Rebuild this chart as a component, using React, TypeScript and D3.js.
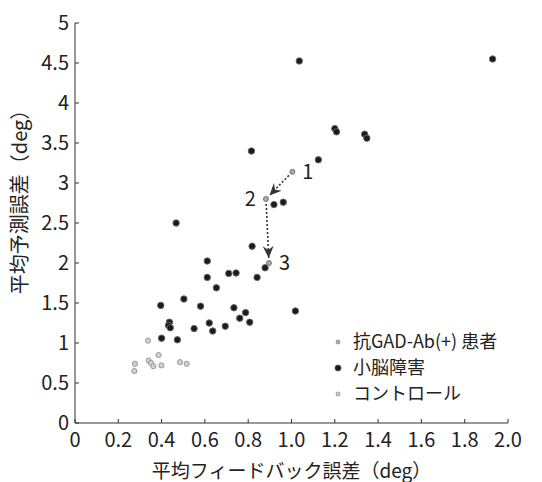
import React, { useEffect, useRef } from 'react';
import * as d3 from 'd3';

// 抗GAD-Ab(+) 患者 (the three visits 1 -> 2 -> 3)
const patientX = [1.004, 0.882, 0.896];
const patientY = [3.14, 2.8, 2.0];
const patientLabels = ['1', '2', '3'];

// 小脳障害
const cerebX = [1.036, 1.929, 0.815, 0.919, 0.962, 1.2, 1.208, 1.338, 1.348, 1.124, 0.467, 0.818, 0.878,
  0.611, 0.611, 0.71, 0.744, 0.841, 0.653, 0.503, 0.396, 0.58, 0.734, 0.788, 1.018, 0.761, 0.807,
  0.436, 0.432, 0.44, 0.62, 0.694, 0.55, 0.636, 0.4, 0.473];
const cerebY = [4.525, 4.55, 3.4, 2.73, 2.76, 3.68, 3.64, 3.61, 3.56, 3.29, 2.5, 2.21, 1.94,
  2.025, 1.82, 1.87, 1.875, 1.82, 1.69, 1.55, 1.47, 1.46, 1.44, 1.38, 1.4, 1.31, 1.26,
  1.26, 1.22, 1.19, 1.25, 1.21, 1.18, 1.15, 1.06, 1.04];

// コントロール
const controlX = [0.337, 0.386, 0.34, 0.351, 0.362, 0.399, 0.277, 0.274, 0.485, 0.516];
const controlY = [1.03, 0.85, 0.78, 0.75, 0.71, 0.72, 0.74, 0.65, 0.76, 0.74];

const xTicks = [0, 0.2, 0.4, 0.6, 0.8, 1.0, 1.2, 1.4, 1.6, 1.8, 2.0];
const yTicks = [0, 0.5, 1, 1.5, 2, 2.5, 3, 3.5, 4, 4.5, 5];
const legendLabels = ['抗GAD-Ab(+) 患者', '小脳障害', 'コントロール'];

const FONT = '"Noto Sans CJK JP", "Noto Sans", sans-serif';

const App: React.FC = () => {
  const ref = useRef<SVGSVGElement>(null);

  useEffect(() => {
    if (!ref.current) return;
    const svg = d3.select(ref.current);
    svg.selectAll('*').remove();

    const x = d3.scaleLinear().domain([0, 2]).range([75, 508]);
    const y = d3.scaleLinear().domain([0, 5]).range([423, 23]);

    // arrow head
    svg.append('defs').append('marker')
      .attr('id', 'dart')
      .attr('viewBox', '-12 -6 13 12')
      .attr('refX', 0).attr('refY', 0)
      .attr('markerWidth', 13).attr('markerHeight', 12)
      .attr('markerUnits', 'userSpaceOnUse')
      .attr('orient', 'auto')
      .append('path')
      .attr('d', 'M0,0 L-12,-5.5 L-8,0 L-12,5.5 Z')
      .attr('fill', '#333');

    // axes
    const axes = svg.append('g').attr('stroke', '#333').attr('stroke-width', 1);
    axes.append('line').attr('x1', x(0)).attr('x2', x(0)).attr('y1', y(0)).attr('y2', y(5));
    axes.append('line').attr('x1', x(0)).attr('x2', x(2)).attr('y1', y(0)).attr('y2', y(0));
    axes.selectAll('.yt').data(yTicks).join('line')
      .attr('x1', x(0)).attr('x2', x(0) + 4).attr('y1', d => y(d)).attr('y2', d => y(d));
    axes.selectAll('.xt').data(xTicks).join('line')
      .attr('x1', d => x(d)).attr('x2', d => x(d)).attr('y1', y(0)).attr('y2', y(0) - 4);

    svg.append('g').selectAll('text').data(yTicks).join('text')
      .attr('x', x(0) - 6).attr('y', d => y(d)).attr('dy', '0.35em')
      .attr('text-anchor', 'end').attr('font-family', FONT).attr('font-size', 20)
      .attr('fill', '#222')
      .text(d => String(d));

    svg.append('g').selectAll('text').data(xTicks).join('text')
      .attr('x', d => x(d)).attr('y', 447)
      .attr('text-anchor', 'middle').attr('font-family', FONT).attr('font-size', 20)
      .attr('fill', '#222')
      .text(d => (d === 0 ? '0' : d.toFixed(1)));

    svg.append('text')
      .attr('x', (x(0) + x(2)) / 2).attr('y', 478)
      .attr('text-anchor', 'middle').attr('font-family', FONT).attr('font-size', 19)
      .attr('fill', '#222')
      .text('平均フィードバック誤差（deg）');

    svg.append('text')
      .attr('transform', 'translate(27,197) rotate(-90)')
      .attr('text-anchor', 'middle').attr('font-family', FONT).attr('font-size', 20)
      .attr('fill', '#222')
      .text('平均予測誤差（deg）');

    // cerebellar patients
    svg.append('g').selectAll('circle').data(cerebX).join('circle')
      .attr('cx', d => x(d)).attr('cy', (d, i) => y(cerebY[i])).attr('r', 3.2)
      .attr('fill', '#1a1a1a').attr('stroke', '#666').attr('stroke-width', 1);

    // controls
    svg.append('g').selectAll('circle').data(controlX).join('circle')
      .attr('cx', d => x(d)).attr('cy', (d, i) => y(controlY[i])).attr('r', 2.6)
      .attr('fill', '#d0d0d0').attr('stroke', '#999').attr('stroke-width', 1);

    // patient trajectory (dotted arrows between visits)
    for (let i = 0; i < patientX.length - 1; i++) {
      const x1 = x(patientX[i]), y1 = y(patientY[i]);
      const x2 = x(patientX[i + 1]), y2 = y(patientY[i + 1]);
      const len = Math.hypot(x2 - x1, y2 - y1);
      const sh = 5 / len;
      svg.append('line')
        .attr('x1', x1 + (x2 - x1) * sh).attr('y1', y1 + (y2 - y1) * sh)
        .attr('x2', x2 - (x2 - x1) * sh).attr('y2', y2 - (y2 - y1) * sh)
        .attr('stroke', '#333').attr('stroke-width', 1.6)
        .attr('stroke-dasharray', '2,2')
        .attr('marker-end', 'url(#dart)');
    }
    svg.append('g').selectAll('circle').data(patientX).join('circle')
      .attr('cx', d => x(d)).attr('cy', (d, i) => y(patientY[i])).attr('r', 2.5)
      .attr('fill', '#aaa').attr('stroke', '#777').attr('stroke-width', 1);
    const labelDx = [10, -10, 10];
    svg.append('g').selectAll('text').data(patientLabels).join('text')
      .attr('x', (d, i) => x(patientX[i]) + labelDx[i])
      .attr('y', (d, i) => y(patientY[i]))
      .attr('dy', '0.35em')
      .attr('text-anchor', (d, i) => (labelDx[i] < 0 ? 'end' : 'start'))
      .attr('font-family', FONT).attr('font-size', 20).attr('fill', '#222')
      .text(d => d);

    // legend
    const legend = svg.append('g');
    const legendFill = ['#aaa', '#1a1a1a', '#d0d0d0'];
    const legendR = [2, 3, 2];
    legendLabels.forEach((lab, i) => {
      const ly = 342 + i * 26;
      legend.append('circle').attr('cx', 338).attr('cy', ly).attr('r', legendR[i])
        .attr('fill', legendFill[i]).attr('stroke', i === 1 ? '#555' : '#999').attr('stroke-width', 1);
      legend.append('text').attr('x', 353).attr('y', ly).attr('dy', '0.35em')
        .attr('font-family', FONT).attr('font-size', 18).attr('fill', '#222')
        .text(lab);
    });
  }, []);

  return (
    <svg
      ref={ref}
      width={542}
      height={482}
      style={{ position: 'absolute', left: 0, top: 0, background: '#fff' }}
    />
  );
};

export default App;
